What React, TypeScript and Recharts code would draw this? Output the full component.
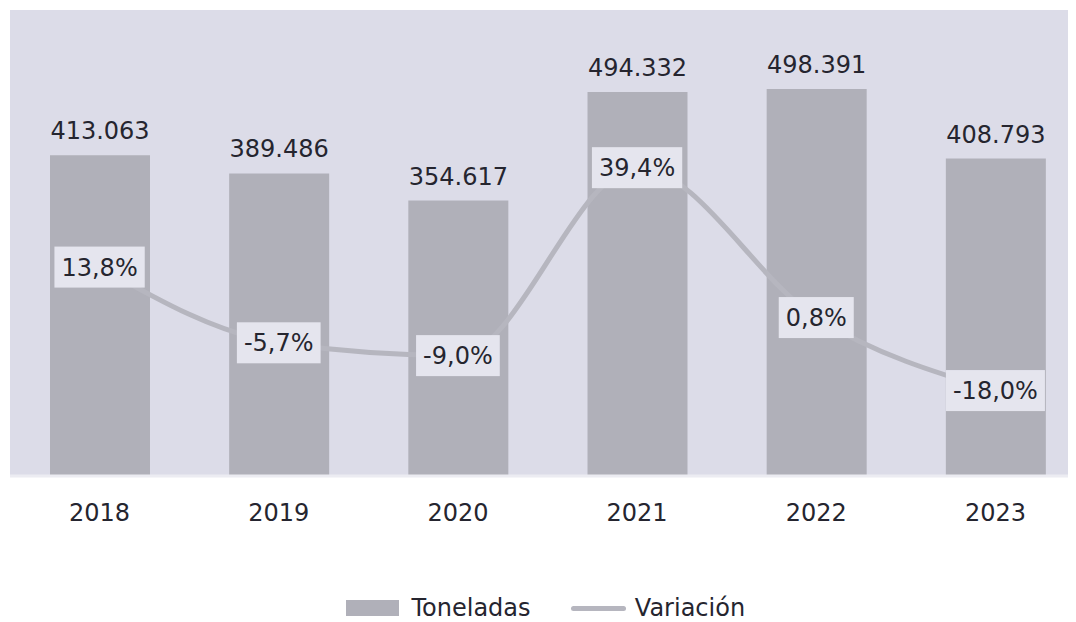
import React from 'react';
import { ComposedChart, Bar, Line, XAxis, YAxis, CartesianGrid, Legend, LabelList } from 'recharts';

const years = ['2018', '2019', '2020', '2021', '2022', '2023'];
const toneladas = [413063, 389486, 354617, 494332, 498391, 408793];
const variacion = [13.8, -5.7, -9.0, 39.4, 0.8, -18.0];

const data = years.map((year, i) => ({
    year,
    toneladas: toneladas[i],
    variacion: variacion[i]
}));

const FONT = '"DejaVu Sans", sans-serif';
const TEXT = '#25252f';
const BAR = '#b0b0b9';
const LINE = '#b6b6bf';
const PLOT_BG = '#dcdce8';
const BOX_BG = '#e5e5ee';

const fmtTons = (v: any) => String(v).replace(/\B(?=(\d{3})+(?!\d))/g, '.');
const fmtPct = (v: number) => v.toFixed(1).replace('.', ',') + '%';

const PctLabel = (props: any) => {
    const { x, y, value } = props;
    if (x == null || y == null) return null;
    const text = fmtPct(Number(value));
    let w = 0;
    for (const ch of text) {
        if (ch === ',') w += 7.6;
        else if (ch === '%') w += 22.8;
        else if (ch === '-') w += 8.7;
        else w += 15.3;
    }
    const boxW = w + 14;
    const boxH = 41;
    return (
        <g>
            <rect x={x - boxW / 2} y={y - boxH / 2} width={boxW} height={boxH} fill={BOX_BG} />
            <text x={x} y={y + 8.5} textAnchor="middle" fontSize={24} fontFamily={FONT} fill={TEXT}>
                {text}
            </text>
        </g>
    );
};

const LegendContent = () => (
    <div style={{
        height: 28,
        display: 'flex',
        justifyContent: 'center',
        alignItems: 'center',
        fontFamily: FONT,
        fontSize: 24,
        color: TEXT,
        paddingLeft: 11
    }}>
        <span style={{ display: 'inline-block', width: 53, height: 16, background: BAR, marginRight: 5 }} />
        <span style={{ display: 'inline-block', width: 134, textAlign: 'center' }}>Toneladas</span>
        <span style={{ display: 'inline-block', width: 55, height: 5, borderRadius: 3, background: LINE, marginLeft: 33, marginRight: 3 }} />
        <span style={{ display: 'inline-block', width: 122, textAlign: 'center' }}>Variación</span>
    </div>
);

const App: React.FC = () => {
    return (
        <ComposedChart
            width={1068}
            height={614}
            data={data}
            margin={{ top: 2, right: 0, bottom: 0, left: 2 }}
            barCategoryGap={0}
        >
            <CartesianGrid fill={PLOT_BG} stroke="none" horizontal={false} vertical={false} />
            <XAxis
                dataKey="year"
                height={118}
                padding={{ left: 0, right: -9 }}
                tickLine={false}
                axisLine={{ stroke: '#ececf2', strokeWidth: 3 }}
                tickMargin={22}
                tick={{ fontSize: 24, fontFamily: FONT, fill: TEXT }}
            />
            <YAxis yAxisId="left" hide domain={[0, 600000]} />
            <YAxis yAxisId="right" hide orientation="right" domain={[-40, 80]} />
            <Legend verticalAlign="bottom" content={<LegendContent />} />
            <Bar yAxisId="left" dataKey="toneladas" name="Toneladas" fill={BAR} barSize={100} isAnimationActive={false}>
                <LabelList
                    dataKey="toneladas"
                    position="top"
                    offset={16}
                    formatter={fmtTons}
                    style={{ fontSize: 24, fontFamily: FONT, fill: TEXT }}
                />
            </Bar>
            <Line
                yAxisId="right"
                type="monotone"
                dataKey="variacion"
                name="Variación"
                stroke={LINE}
                strokeWidth={5}
                dot={false}
                activeDot={false}
                isAnimationActive={false}
            >
                <LabelList dataKey="variacion" content={(p: any) => <PctLabel {...p} />} />
            </Line>
        </ComposedChart>
    );
};

export default App;
